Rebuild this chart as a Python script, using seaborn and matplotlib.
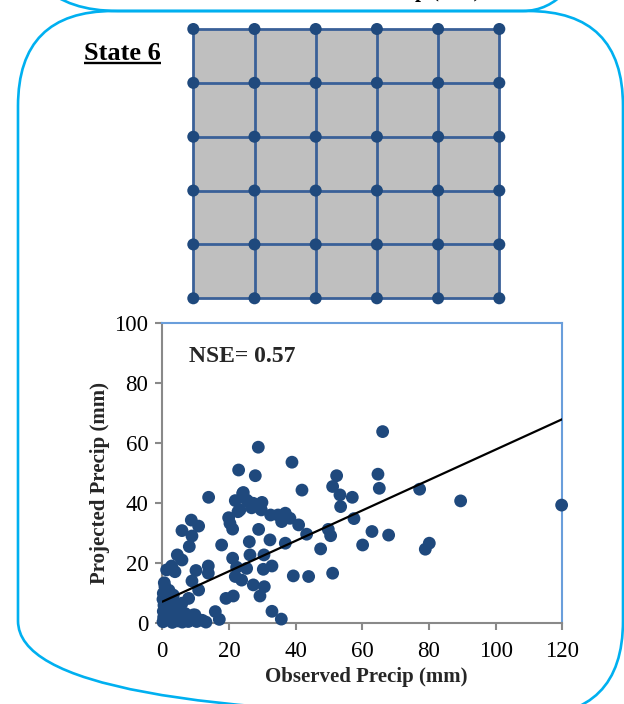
import numpy as np
import pandas as pd
import matplotlib
matplotlib.use("Agg")
import matplotlib.pyplot as plt
import seaborn as sns
from matplotlib.patches import FancyBboxPatch, Rectangle

# ---- data -------------------------------------------------------------
observed = [
    66.1, 28.8, 38.9, 22.9, 27.9, 13.9, 41.9, 52.3, 51.1, 53.3, 53.5, 57.0,
    64.7, 65.1, 77.2, 89.5, 119.8, 57.5, 49.8, 50.5, 62.9, 67.9, 60.1, 80.1,
    78.9, 47.5, 51.1, 39.3, 43.9, 43.3, 40.9, 36.9, 38.3, 35.8, 34.7, 32.5,
    36.9, 32.3, 28.9, 26.1, 26.3, 30.5, 32.9, 30.3, 25.3, 22.3, 21.1, 21.9,
    23.8, 27.3, 30.6, 29.3, 21.3, 19.1, 32.9, 35.7, 29.9, 27.3, 29.7, 24.1,
    21.9, 25.3, 22.7, 19.9, 20.3, 21.1, 17.8, 8.7, 10.9, 5.9, 8.9, 8.1,
    4.5, 5.9, 1.3, 3.8, 2.8, 10.1, 8.9, 10.9, 13.8, 13.8, 0.8, 3.3,
    7.9, 5.9, 15.9, 17.1, 13.1, 9.3, 10.3, 7.8, 5.3, 23.3, 26.8, 24.3,
    25.8, 0.3, 0.2, 0.5, 0.3, 0.4, 0.2, 1.0, 1.5, 1.8, 2.2, 2.5,
    3.0, 3.8, 4.0, 4.5, 5.0, 6.8, 6.0, 1.2, 0.6, 2.0, 3.0, 1.0,
    2.8, 12.0, 9.8,
]
projected = [
    63.9, 58.7, 53.7, 51.1, 49.2, 42.0, 44.4, 49.2, 45.6, 42.8, 38.9, 42.0,
    49.7, 45.0, 44.7, 40.8, 39.4, 34.9, 31.3, 29.2, 30.6, 29.4, 26.1, 26.7,
    24.7, 24.8, 16.7, 15.8, 15.6, 29.7, 32.8, 36.7, 35.0, 33.9, 36.1, 36.1,
    26.7, 27.8, 31.3, 27.2, 22.8, 22.8, 19.1, 18.0, 18.3, 18.7, 21.7, 15.6,
    14.4, 12.8, 12.2, 9.1, 9.1, 8.3, 4.0, 1.4, 40.3, 40.0, 37.8, 43.3,
    40.9, 41.1, 37.2, 35.2, 33.3, 31.4, 26.1, 34.4, 32.4, 30.9, 29.1, 25.6,
    22.8, 21.1, 17.8, 17.2, 19.1, 17.6, 14.1, 11.1, 19.1, 16.7, 12.2, 9.4,
    8.3, 6.7, 3.9, 1.3, 0.4, 2.8, 0.6, 0.6, 3.3, 37.8, 38.5, 43.6,
    40.6, 10.0, 8.0, 6.0, 4.0, 2.0, 0.5, 1.2, 3.0, 5.0, 7.0, 1.0,
    0.3, 2.8, 5.5, 0.8, 1.8, 3.3, 0.4, 9.0, 13.5, 11.0, 4.0, 6.5,
    8.5, 1.0, 2.8,
]
trend_intercept = 7.2
trend_slope = 0.507
nse_value = 0.57
x_ticks = [0, 20, 40, 60, 80, 100, 120]
y_ticks = [0, 20, 40, 60, 80, 100]
grid_nodes = [0, 1, 2, 3, 4, 5]
panel_title = "State 6"
x_label = "Observed Precip (mm)"
y_label = "Projected Precip (mm)"

# ---- styling ----------------------------------------------------------
W, H = 624, 704
sns.set_theme(style="white")
plt.rcParams["font.family"] = ["Liberation Serif", "DejaVu Serif"]

POINT_BLUE = "#1f497d"
LINE_BLUE = "#3a6098"
FRAME_BLUE = "#00b0f0"
AXIS_GREY = "#898989"
EDGE_BLUE = "#6a9edb"

fig = plt.figure(figsize=(W / 100, H / 100), dpi=100)


def px_axes(x0, y0, x1, y1, **kw):
    """Axes placed by pixel box measured from the top-left corner."""
    return fig.add_axes([x0 / W, 1 - y1 / H, (x1 - x0) / W, (y1 - y0) / H], **kw)


# background layer in pixel units: rounded panel frames and panel title
bg = px_axes(0, 0, W, H)
bg.set_xlim(0, W)
bg.set_ylim(H, 0)
bg.axis("off")
bg.add_patch(FancyBboxPatch((18, -420), 605, 431,
                            boxstyle="round,pad=0,rounding_size=100",
                            fill=False, ec=FRAME_BLUE, lw=1.9))
bg.add_patch(FancyBboxPatch((18, 11), 605, 705,
                            boxstyle="round,pad=0,rounding_size=95",
                            fill=False, ec=FRAME_BLUE, lw=1.9))
# axis title of the panel above, mostly cut off by the top edge
bg.text(379, -3, x_label, ha="center", va="baseline", fontsize=15,
        fontweight="bold", color="black")
t = bg.text(84, 60, panel_title, ha="left", va="baseline", fontsize=19,
            fontweight="bold", color="black")
fig.canvas.draw()
bb = t.get_window_extent()
bg.plot([bb.x0, bb.x1], [63.2, 63.2], color="black", lw=1.7,
        solid_capstyle="butt")

# ---- grid of nodes ----------------------------------------------------
gax = px_axes(193.3, 29, 499.3, 298.3)
gax.set_xlim(0, 5)
gax.set_ylim(5, 0)
gax.axis("off")
gax.add_patch(Rectangle((0, 0), 5, 5, facecolor="#bfbfbf", edgecolor="none",
                        zorder=0))
for g in grid_nodes:
    gax.plot([g, g], [0, 5], color=LINE_BLUE, lw=2.0, zorder=1,
             clip_on=False)
    gax.plot([0, 5], [g, g], color=LINE_BLUE, lw=2.0, zorder=1,
             clip_on=False)
nodes = pd.DataFrame([(c, r) for r in grid_nodes for c in grid_nodes],
                     columns=["col", "row"])
sns.scatterplot(data=nodes, x="col", y="row", ax=gax, s=75, color=POINT_BLUE,
                edgecolor="none", linewidth=0, zorder=3, clip_on=False,
                legend=False)
gax.set_xlabel("")
gax.set_ylabel("")

# ---- scatter panel ----------------------------------------------------
ax = px_axes(162.3, 323.3, 562.3, 623.3)
df = pd.DataFrame({"observed": observed, "projected": projected})
sns.scatterplot(data=df, x="observed", y="projected", ax=ax, s=85,
                color=POINT_BLUE, edgecolor="none", linewidth=0, zorder=3,
                clip_on=False, legend=False)
xs = np.array([x_ticks[0], x_ticks[-1]], dtype=float)
ax.plot(xs, trend_intercept + trend_slope * xs, color="black", lw=1.6,
        zorder=4)
ax.set_xlim(x_ticks[0], x_ticks[-1])
ax.set_ylim(y_ticks[0], y_ticks[-1])
ax.set_xticks(x_ticks)
ax.set_yticks(y_ticks)
ax.set_facecolor("white")
for side in ("left", "bottom"):
    ax.spines[side].set_color(AXIS_GREY)
    ax.spines[side].set_linewidth(1.5)
for side in ("top", "right"):
    ax.spines[side].set_color(EDGE_BLUE)
    ax.spines[side].set_linewidth(1.5)
for s in ax.spines.values():
    s.set_visible(True)
    s.set_zorder(2)
ax.tick_params(axis="both", which="major", direction="out", length=5,
               width=1.5, color=AXIS_GREY, labelsize=16.5, labelcolor="black",
               bottom=True, left=True, top=False, right=False)
ax.tick_params(axis="x", pad=8)
ax.tick_params(axis="y", pad=5)
ax.set_xlabel(x_label, fontsize=15, fontweight="bold", labelpad=3)
ax.set_ylabel(y_label, fontsize=15, fontweight="bold", labelpad=3.5)
ax.xaxis.label.set_x(0.51)
ax.yaxis.label.set_y(0.466)
ax.text(0.067, 0.888, f"NSE= {nse_value:.2f}", transform=ax.transAxes,
        ha="left", va="center", fontsize=17, fontweight="bold")

fig.savefig("out.png", dpi=100)
